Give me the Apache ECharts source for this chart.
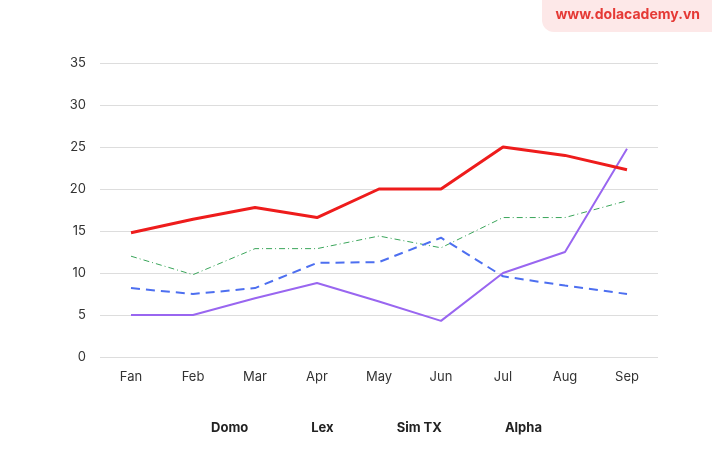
<!DOCTYPE html>
<html><head><meta charset="utf-8">
<script src="https://cdn.jsdelivr.net/npm/echarts@6/dist/echarts.min.js"></script>
<style>html,body{margin:0;padding:0;background:#fff}#c{width:712px;height:474px}</style>
</head><body><div id="c"></div>
<script>
const categories = ['Fan','Feb','Mar','Apr','May','Jun','Jul','Aug','Sep'];
const domo  = [14.8, 16.4, 17.8, 16.6, 20, 20, 25, 24, 22.3];
const lex   = [12, 9.8, 12.9, 12.9, 14.4, 13, 16.6, 16.6, 18.6];
const simTX = [8.2, 7.5, 8.2, 11.2, 11.3, 14.2, 9.6, 8.5, 7.5];
const alpha = [5, 5, 7, 8.8, 6.6, 4.3, 10, 12.5, 24.8];
const yTicks = [0,5,10,15,20,25,30,35];

const chart = echarts.init(document.getElementById('c'));
const font = 'Inter';
chart.setOption({
  animation:false,
  textStyle:{fontFamily:font},
  graphic:[
    {type:'rect',right:0,top:0,shape:{x:0,y:0,width:170,height:32,r:[0,0,0,12]},style:{fill:'#fde8e8'}},
    {type:'text',right:12,top:8,style:{text:'www.dolacademy.vn',fill:'#e53935',font:'bold 14px Inter'}}
  ],
  grid:{left:100,right:54,top:63,bottom:117},
  legend:{show:true,orient:'horizontal',top:417,left:'center',itemWidth:36,itemHeight:10,itemGap:22,icon:'none',
    textStyle:{fontSize:13,fontWeight:'bold',color:'#222',fontFamily:font},
    data:[
      {name:'Domo',lineStyle:{color:'#ee1c1c',width:3,type:'solid'}},
      {name:'Lex',lineStyle:{color:'#3aa55a',width:1,type:[6,3,1,3]}},
      {name:'Sim TX',lineStyle:{color:'#9966f0',width:2,type:[6,5]}},
      {name:'Alpha',lineStyle:{color:'#4d6ff0',width:2,type:'solid'}}
    ]},
  xAxis:{type:'category',data:categories,boundaryGap:true,
    axisLine:{show:false},axisTick:{show:false},
    axisLabel:{color:'#333',fontSize:13,margin:14}},
  yAxis:{type:'value',min:0,max:35,interval:5,
    axisLabel:{color:'#333',fontSize:13,margin:14,formatter:v=>yTicks.includes(v)?String(v):''},
    splitLine:{lineStyle:{color:'#dddddd'}}},
  series:[
    {name:'Domo',type:'line',data:domo,symbol:'none',lineStyle:{color:'#ee1c1c',width:3},itemStyle:{color:'#ee1c1c'},z:5},
    {name:'Lex',type:'line',data:lex,symbol:'none',lineStyle:{color:'#3aa55a',width:1,type:[6,3,1,3]},itemStyle:{color:'#3aa55a'}},
    {name:'Sim TX',type:'line',data:simTX,symbol:'none',lineStyle:{color:'#4d6ff0',width:2,type:[9,6]},itemStyle:{color:'#4d6ff0'}},
    {name:'Alpha',type:'line',data:alpha,symbol:'none',lineStyle:{color:'#9966f0',width:2},itemStyle:{color:'#9966f0'}}
  ]
});
</script></body></html>
